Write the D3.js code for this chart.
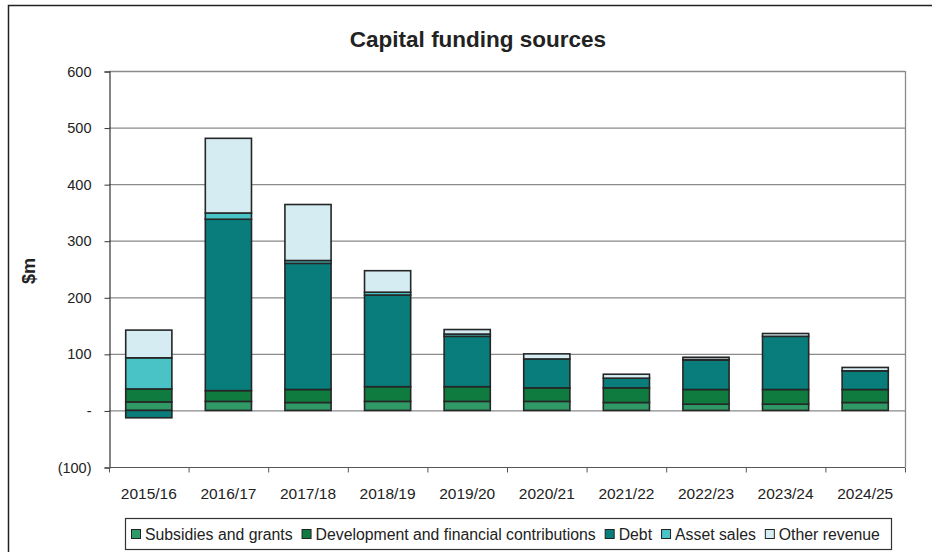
<!DOCTYPE html>
<html>
<head>
<meta charset="utf-8">
<script src="https://cdn.jsdelivr.net/npm/d3@7/dist/d3.min.js"></script>
<style>
  html, body { margin: 0; padding: 0; background: #fff; }
  svg { display: block; font-family: Arial, "Liberation Sans", Helvetica, sans-serif; }
</style>
</head>
<body>
<svg id="chart" width="932" height="552"></svg>
<script>
// Financial years
const years = ["2015/16", "2016/17", "2017/18", "2018/19", "2019/20",
               "2020/21", "2021/22", "2022/23", "2023/24", "2024/25"];

// Funding by source, $m
const subsidies   = [15, 16, 14, 16, 16, 16, 14, 11, 11, 14];
const development = [23, 19, 23, 26, 26, 24, 26, 26, 26, 23];
const debt        = [-13, 303, 223, 162, 89, 51, 17, 52, 94, 33];
const assetSales  = [55, 11, 5, 5, 4, 0, 0, 1, 0, 0];
const otherRev    = [49, 132, 99, 38, 8, 9, 7, 4, 5, 6];

const seriesNames = ["Subsidies and grants", "Development and financial contributions",
                     "Debt", "Asset sales", "Other revenue"];
const seriesColors = ["#2f9a66", "#0f7b3f", "#087d7b", "#4ac3c6", "#d4ecf2"];

const yTicks = [-100, 0, 100, 200, 300, 400, 500, 600];
const yTickLabel = v => v === 0 ? "-" : (v < 0 ? "(" + Math.abs(v) + ")" : String(v));

const rows = years.map((y, i) => ({
  year: y,
  s0: subsidies[i], s1: development[i], s2: debt[i], s3: assetSales[i], s4: otherRev[i]
}));
const keys = ["s0", "s1", "s2", "s3", "s4"];

const svg = d3.select("#chart");
const W = 932, H = 552;
const plot = { left: 109, right: 905, top: 71, bottom: 467 };

// Outer frame
svg.append("rect")
  .attr("x", 8.5).attr("y", 5.5)
  .attr("width", W).attr("height", H)
  .attr("fill", "none").attr("stroke", "#222").attr("stroke-width", 1.5);

// Title
svg.append("text")
  .attr("x", 478).attr("y", 47)
  .attr("text-anchor", "middle")
  .attr("font-size", 22.5).attr("font-weight", "bold").attr("fill", "#222")
  .text("Capital funding sources");

const x = d3.scaleBand().domain(years).range([plot.left, plot.right]).padding(0);
const y = d3.scaleLinear().domain([-100, 600]).range([plot.bottom, plot.top]);

// Gridlines
svg.append("g").selectAll("line")
  .data(yTicks.filter(v => v > -100))
  .join("line")
  .attr("x1", plot.left).attr("x2", plot.right)
  .attr("y1", d => y(d) + 0.5).attr("y2", d => y(d) + 0.5)
  .attr("stroke", "#8a8a8a").attr("stroke-width", 1.3);

// Right edge of plot area
svg.append("line")
  .attr("x1", plot.right + 0.5).attr("x2", plot.right + 0.5)
  .attr("y1", plot.top).attr("y2", plot.bottom)
  .attr("stroke", "#8a8a8a").attr("stroke-width", 1.3);

// Stacked bars
const stack = d3.stack().keys(keys).offset(d3.stackOffsetDiverging);
const layers = stack(rows);
const barW = x.step() * 0.58;

svg.append("g").selectAll("g")
  .data(layers)
  .join("g")
  .attr("fill", (d, i) => seriesColors[i])
  .selectAll("rect")
  .data(d => d.filter(p => p[1] !== p[0]))
  .join("rect")
  .attr("x", d => x(d.data.year) + (x.step() - barW) / 2)
  .attr("width", barW)
  .attr("y", d => y(Math.max(d[0], d[1])))
  .attr("height", d => Math.abs(y(d[0]) - y(d[1])))
  .attr("stroke", "#262626").attr("stroke-width", 1.6);

// Y axis
const yAxis = d3.axisLeft(y).tickValues(yTicks).tickFormat(yTickLabel).tickSize(5).tickPadding(13);
const gy = svg.append("g").attr("transform", `translate(${plot.left + 0.5},0.5)`).call(yAxis);
gy.select(".domain").attr("stroke", "#333").attr("stroke-width", 1.2);
gy.selectAll(".tick line").attr("stroke", "#333");
gy.selectAll(".tick text").attr("font-size", 14.5).attr("fill", "#222")
  .attr("font-family", "Arial, 'Liberation Sans', sans-serif");

// X axis along the bottom of the plot
const gx = svg.append("g").attr("transform", `translate(0,${plot.bottom + 0.5})`);
gx.append("line")
  .attr("x1", plot.left).attr("x2", plot.right)
  .attr("stroke", "#555").attr("stroke-width", 1.2);
gx.selectAll("line.tk")
  .data(years.concat(["end"]))
  .join("line").attr("class", "tk")
  .attr("x1", (d, i) => plot.left + i * x.step() + 0.5)
  .attr("x2", (d, i) => plot.left + i * x.step() + 0.5)
  .attr("y1", 0).attr("y2", 5)
  .attr("stroke", "#555");
gx.selectAll("text")
  .data(years)
  .join("text")
  .attr("x", d => x(d) + x.step() / 2)
  .attr("y", 31)
  .attr("text-anchor", "middle")
  .attr("font-size", 15.5).attr("fill", "#222")
  .text(d => d);

// Y axis title
svg.append("text")
  .attr("transform", "translate(35,271) rotate(-90)")
  .attr("text-anchor", "middle")
  .attr("font-size", 18).attr("font-weight", "bold").attr("fill", "#222")
  .text("$m");

// Legend
const legend = svg.append("g");
legend.append("rect")
  .attr("x", 125.5).attr("y", 518.5).attr("width", 766).attr("height", 31)
  .attr("fill", "#fff").attr("stroke", "#333").attr("stroke-width", 1.2);

const items = legend.append("g");
let cursor = 131;
seriesNames.forEach((name, i) => {
  const g = items.append("g").attr("transform", `translate(${cursor},0)`);
  g.append("rect")
    .attr("x", 0.5).attr("y", 529.5).attr("width", 9).attr("height", 9)
    .attr("fill", seriesColors[i]).attr("stroke", "#222").attr("stroke-width", 1);
  const t = g.append("text")
    .attr("x", 14).attr("y", 540)
    .attr("font-size", 15.8).attr("fill", "#222")
    .text(name);
  cursor += 14 + t.node().getComputedTextLength() + 9;
});
</script>
</body>
</html>
